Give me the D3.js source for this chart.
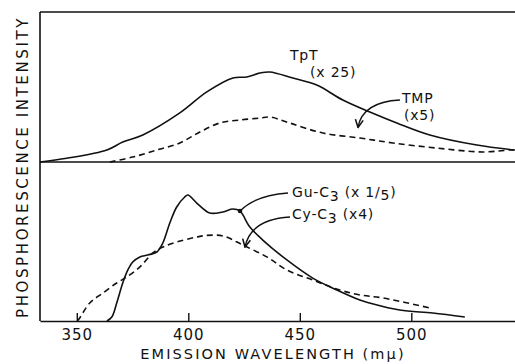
<!DOCTYPE html>
<html>
<head>
<meta charset="utf-8">
<script src="https://cdn.jsdelivr.net/npm/d3@7"></script>
<style>
  body { margin: 0; background: #fff; }
  text { font-family: "DejaVu Sans", sans-serif; fill: #111; }
</style>
</head>
<body>
<svg id="chart" width="515" height="364"></svg>
<script>
// emission wavelength (mu) vs phosphorescence intensity (arbitrary, % of panel height)
const tpt = [[333.5, 0], [345.5, 2.5], [363.5, 8], [370.6, 13.3], [379.6, 18], [396.2, 32.7],
  [408.3, 46.7], [420, 56], [426.2, 56.7], [432.1, 59.3], [436.5, 60], [446.9, 56], [457.6, 51.3],
  [469.3, 41.3], [481.4, 33.3], [493.5, 26], [508.3, 18], [529.4, 11.3], [546.4, 8]];
const tmp = [[364.8, 0], [375.1, 3.3], [385.9, 8], [396.2, 12.7], [405.2, 20], [414.1, 26],
  [423.1, 28], [432.1, 29.3], [436.5, 30], [445.5, 26], [460.3, 19.3], [476.9, 16], [491.7, 12.7],
  [511.4, 9.3], [532.1, 6.7], [544.2, 8], [546.4, 8]];
const guC3 = [[363.5, 0], [365.7, 2.5], [367.9, 11.3], [370.6, 23.9], [372.9, 32.1], [375.1, 37.1],
  [378.3, 40.3], [381.8, 41.5], [385.9, 43.4], [388.6, 49.1], [391.7, 61.6], [394.8, 71.7],
  [398.4, 78], [399.8, 79.2], [403.8, 74.2], [409.6, 67.9], [415.5, 68.6], [420, 70.4],
  [423.1, 69.2], [427.6, 59.1], [433.4, 50.9], [444.2, 38.4], [455.8, 27], [466.6, 19.5],
  [476.9, 13.2], [481.4, 11.3], [494.8, 6.9], [509.6, 5], [524, 2.5]];
const cyC3 = [[350.3, 0], [351.3, 1.9], [355.8, 11.3], [361.7, 17.6], [367.9, 23.9], [372.4, 27.7],
  [378.3, 34], [384.1, 42.8], [388.6, 46.5], [394.8, 49.7], [403.8, 52.8], [408, 53.8],
  [415.5, 53.5], [424.4, 47.8], [435.2, 40.3], [444.2, 32.1], [455.8, 25.8], [467.9, 19.5],
  [476.9, 16.4], [487.2, 14.5], [508.3, 8.2]];
const xTicks = [350, 400, 450, 500];

const svg = d3.select('#chart');
const x = d3.scaleLinear().domain([333.5, 546.5]).range([40, 515]);
const yTop = d3.scaleLinear().domain([0, 100]).range([162, 12]);
const yBot = d3.scaleLinear().domain([0, 100]).range([321, 162]);

const ink = '#111';

// frame: top, middle divider, left side
svg.append('line').attr('x1', x.range()[0]).attr('x2', x.range()[1])
  .attr('y1', yTop(100)).attr('y2', yTop(100)).attr('stroke', ink).attr('stroke-width', 1.6);
svg.append('line').attr('x1', x.range()[0]).attr('x2', x.range()[1])
  .attr('y1', yTop(0)).attr('y2', yTop(0)).attr('stroke', ink).attr('stroke-width', 1.6);
svg.append('line').attr('x1', x.range()[0]).attr('x2', x.range()[0])
  .attr('y1', yTop(100)).attr('y2', yBot(0)).attr('stroke', ink).attr('stroke-width', 1.6);

const xAxis = svg.append('g')
  .attr('transform', `translate(0, ${yBot(0)})`)
  .call(d3.axisBottom(x).tickValues(xTicks).tickSize(-8).tickSizeOuter(0).tickPadding(8));
xAxis.select('.domain').attr('stroke', ink).attr('stroke-width', 1.6);
xAxis.selectAll('.tick line').attr('stroke', ink).attr('stroke-width', 1.4);
xAxis.selectAll('.tick text')
  .attr('font-family', '"DejaVu Sans", sans-serif')
  .attr('font-size', 15).attr('letter-spacing', 1).attr('fill', ink);

svg.append('text')
  .attr('x', 273).attr('y', 359)
  .attr('text-anchor', 'middle')
  .attr('font-size', 14.5).attr('letter-spacing', 2.1)
  .text('EMISSION WAVELENGTH (mμ)');

svg.append('text')
  .attr('transform', 'translate(28, 167) rotate(-90)')
  .attr('text-anchor', 'middle')
  .attr('font-size', 15).attr('letter-spacing', 2.6)
  .text('PHOSPHORESCENCE INTENSITY');

// curves
const lineTop = d3.line().curve(d3.curveCatmullRom).x(d => x(d[0])).y(d => yTop(d[1]));
const lineBot = d3.line().curve(d3.curveCatmullRom).x(d => x(d[0])).y(d => yBot(d[1]));

svg.append('path').attr('d', lineTop(tpt))
  .attr('fill', 'none').attr('stroke', ink).attr('stroke-width', 1.6);
svg.append('path').attr('d', lineTop(tmp))
  .attr('fill', 'none').attr('stroke', ink).attr('stroke-width', 1.6)
  .attr('stroke-dasharray', '6,4');
svg.append('path').attr('d', lineBot(guC3))
  .attr('fill', 'none').attr('stroke', ink).attr('stroke-width', 1.6);
svg.append('path').attr('d', lineBot(cyC3))
  .attr('fill', 'none').attr('stroke', ink).attr('stroke-width', 1.6)
  .attr('stroke-dasharray', '6,4');

// annotations
svg.append('defs').append('marker')
  .attr('id', 'arrow').attr('viewBox', '0 0 10 10').attr('refX', 9).attr('refY', 5)
  .attr('markerWidth', 7).attr('markerHeight', 7).attr('orient', 'auto')
  .append('path').attr('d', 'M1,1 L9,5 L1,9').attr('fill', 'none')
  .attr('stroke', ink).attr('stroke-width', 1.6);

function arrow(yS, from, ctrl, to, dot) {
  const p = d3.path();
  p.moveTo(x(from[0]), yS(from[1]));
  p.quadraticCurveTo(x(ctrl[0]), yS(ctrl[1]), x(to[0]), yS(to[1]));
  const a = svg.append('path').attr('d', p.toString())
    .attr('fill', 'none').attr('stroke', ink).attr('stroke-width', 1.4);
  if (dot) {
    svg.append('circle').attr('cx', x(to[0])).attr('cy', yS(to[1])).attr('r', 2.3).attr('fill', ink);
  } else {
    a.attr('marker-end', 'url(#arrow)');
  }
}

function label(yS, wl, val, parts) {
  const t = svg.append('text').attr('x', x(wl)).attr('y', yS(val))
    .attr('font-size', 14).attr('letter-spacing', 0.8);
  parts.forEach(p => {
    t.append('tspan').attr('dy', p.dy || 0).attr('font-size', p.size || 14).text(p.t);
  });
}

label(yTop, 445.6, 68, [{ t: 'TpT' }]);
label(yTop, 454.6, 56.5, [{ t: '(x 25)' }]);
label(yTop, 495.8, 39.3, [{ t: 'TMP' }]);
label(yTop, 496.7, 28, [{ t: '(x5)' }]);
arrow(yTop, [494.9, 41.3], [478, 40], [476.1, 23]);

label(yBot, 446.5, 78, [{ t: 'Gu-C' }, { t: '3', dy: 4, size: 14 }, { t: ' (x 1/', dy: -4 }, { t: '5', dy: 3 }, { t: ')', dy: -3 }]);
label(yBot, 446.5, 64.2, [{ t: 'Cy-C' }, { t: '3', dy: 4, size: 14 }, { t: '  (x4)', dy: -4 }]);
arrow(yBot, [444.7, 80.5], [430, 79], [423.2, 69.2], true);
arrow(yBot, [445.6, 65.4], [428, 64], [425.4, 46.5]);
</script>
</body>
</html>
